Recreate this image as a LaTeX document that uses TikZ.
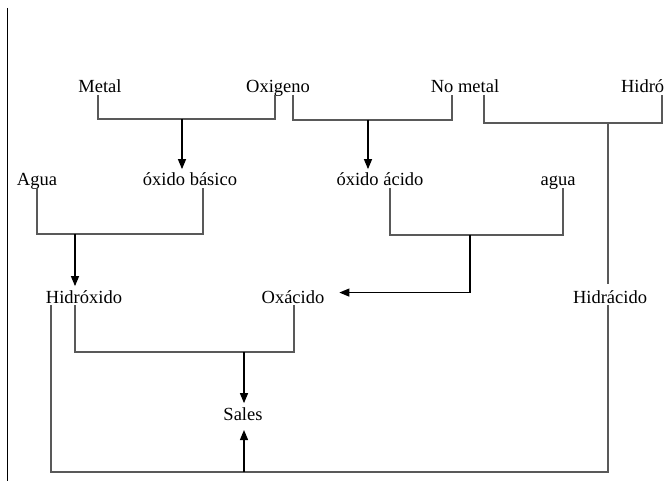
\documentclass[tikz,border=0pt]{standalone}
\usepackage{fontspec}
\setmainfont{Liberation Serif}
\usetikzlibrary{arrows.meta}
\tikzset{
    term/.style = {anchor=base, inner sep=2pt, outer sep=0pt, text depth=0pt, text=black,
                   font=\rmfamily\fontsize{18.5}{20}\selectfont},
    link/.style = {draw=black!65, line width=1.2pt},
    flow/.style = {-{Triangle[length=10pt,width=8pt]}, draw=black, line width=1.2pt},
    edge/.style = {draw=black, line width=1pt}
}

\begin{document}
\begin{tikzpicture}[x=1pt,y=-1pt]
    \useasboundingbox (0,0) rectangle (664,481);
    \draw[edge] (7,8) -- (7,481);

    % reactivos
    \node[term]             (metal)   at (100,93)  {Metal};
    \node[term]             (oxi)     at (278,93)  {Oxigeno};
    \node[term]             (nometal) at (465,93)  {No metal};
    \node[term,anchor=base west] (hidro) at (619,93) {Hidró};

    % productos intermedios
    \node[term]             (agua1)   at (37,186)  {Agua};
    \node[term]             (obas)    at (190,186) {óxido básico};
    \node[term]             (oaci)    at (380,186) {óxido ácido};
    \node[term]             (agua2)   at (558,186) {agua};

    \node[term]             (hidrox)  at (84,303)  {Hidróxido};
    \node[term]             (oxac)    at (293,303) {Oxácido};
    \node[term]             (hidrac)  at (610,303) {Hidrácido};

    \node[term]             (sales)   at (243,420) {Sales};

    % uniones
    \coordinate (j1) at (182,119);
    \coordinate (j2) at (368,120);
    \coordinate (j3) at (608,123);
    \coordinate (hedge) at (662,123);
    \coordinate (j4) at (75,234);
    \coordinate (j5) at (470,235);
    \coordinate (j6) at (244,352);
    \coordinate (j7) at (244,472);

    \draw[link] ([xshift=-2pt]metal.south) |- (j1) -| ([xshift=-3pt]oxi.south);
    \draw[flow, shorten >=2pt] (j1) -- (j1 |- obas.north);

    \draw[link] ([xshift=15pt]oxi.south) |- (j2) -| ([xshift=-13pt]nometal.south);
    \draw[flow, shorten >=2pt] (j2) -- (j2 |- oaci.north);

    \draw[link] ([xshift=19pt]nometal.south) |- (hedge) -- (hedge |- hidro.south);
    \draw[link, shorten >=4pt] (j3) -- (j3 |- hidrac.north);

    \draw[link] (agua1.south) |- (j4) -| ([xshift=13pt]obas.south);
    \draw[flow, shorten >=2pt] (j4) -- (j4 |- hidrox.north);

    \draw[link] ([xshift=10pt]oaci.south) |- (j5) -| ([xshift=5pt]agua2.south);
    \draw[flow] (j5) |- ([xshift=13pt,yshift=4pt]oxac.east);

    \draw[link] ([xshift=-9pt]hidrox.south) |- (j6) -| ([xshift=1pt]oxac.south);
    \draw[flow, shorten >=2pt] (j6) -- (j6 |- sales.north);

    \draw[link] ([xshift=-33pt]hidrox.south) |- (j7) -| ([xshift=-2pt]hidrac.south);
    \draw[flow, shorten >=8pt] (j7) -- (j7 |- sales.south);
\end{tikzpicture}
\end{document}
